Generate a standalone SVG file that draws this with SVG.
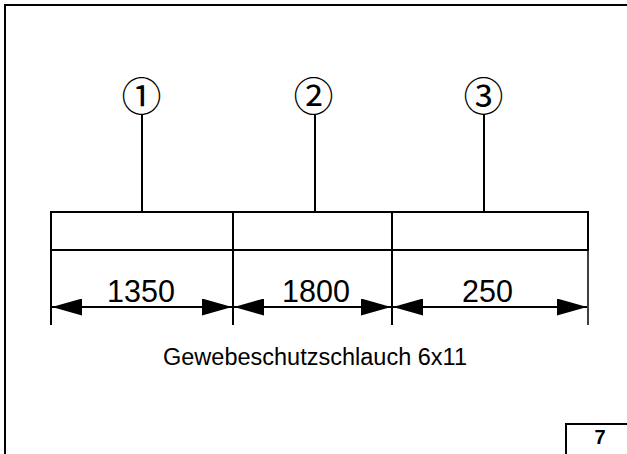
<svg xmlns="http://www.w3.org/2000/svg" width="627" height="454" viewBox="0 0 627 454">
<style>
.ln{stroke:#000;stroke-width:2;fill:none}
.ext{stroke:#000;stroke-width:1.5;fill:none}
.dim{stroke:#000;stroke-width:2;fill:none}
.num{font-family:"Liberation Sans",Arial,sans-serif;font-size:30.5px;text-anchor:middle;fill:#000}
.cap{font-family:"Liberation Sans",Arial,sans-serif;font-size:23.5px;text-anchor:middle;fill:#000}
.circ{font-family:"DejaVu Serif","Liberation Serif","Noto Sans CJK JP",serif;font-size:40px;text-anchor:middle;fill:#000}
.pg{font-family:"Liberation Sans",Arial,sans-serif;font-size:20px;font-weight:bold;text-anchor:middle;fill:#000}
</style>
<defs>
<marker id="ah" viewBox="0 0 30 17" refX="30" refY="8.5" markerWidth="30" markerHeight="17" markerUnits="userSpaceOnUse" orient="auto-start-reverse">
<path d="M0,0 L30,8.5 L0,17 Z" fill="#000"/>
</marker>
</defs>
<rect width="627" height="454" fill="#fff"/>
<g id="frame">
<path class="ln" d="M5,460 V5 H640" stroke-width="2.5"/>
<path class="ln" d="M566,460 V424 H640"/>
<text class="pg" x="600" y="444">7</text>
</g>
<g id="hose">
<rect class="ln" x="51" y="212" width="537" height="38"/>
<line class="ln" x1="233" y1="212" x2="233" y2="250"/>
<line class="ln" x1="392" y1="212" x2="392" y2="250"/>
</g>
<g id="item1">
<text class="circ" x="141.5" y="111">①</text>
</g>
<g id="item2">
<text class="circ" x="313.5" y="111">②</text>
</g>
<g id="item3">
<text class="circ" x="483.5" y="111">③</text>
</g>
<g id="connectors">
<line class="ln" x1="142" y1="114" x2="142" y2="212"/>
<line class="ln" x1="315" y1="114" x2="315" y2="212"/>
<line class="ln" x1="484" y1="114" x2="484" y2="212"/>
<line class="ln" x1="51" y1="250" x2="51" y2="325"/>
<line class="ln" x1="233" y1="250" x2="233" y2="325"/>
<line class="ln" x1="392" y1="250" x2="392" y2="325"/>
<line class="ext" x1="588" y1="250" x2="588" y2="325" stroke="#555"/>
<line class="dim" x1="52" y1="307" x2="232" y2="307" marker-start="url(#ah)" marker-end="url(#ah)"/>
<line class="dim" x1="234" y1="307" x2="391" y2="307" marker-start="url(#ah)" marker-end="url(#ah)"/>
<line class="dim" x1="393" y1="307" x2="587" y2="307" marker-start="url(#ah)" marker-end="url(#ah)"/>
</g>
<g id="labels">
<text class="num" x="141" y="302">1350</text>
<text class="num" x="316" y="302">1800</text>
<text class="num" x="487.5" y="302">250</text>
<text class="cap" x="315" y="365">Gewebeschutzschlauch 6x11</text>
</g>
</svg>
